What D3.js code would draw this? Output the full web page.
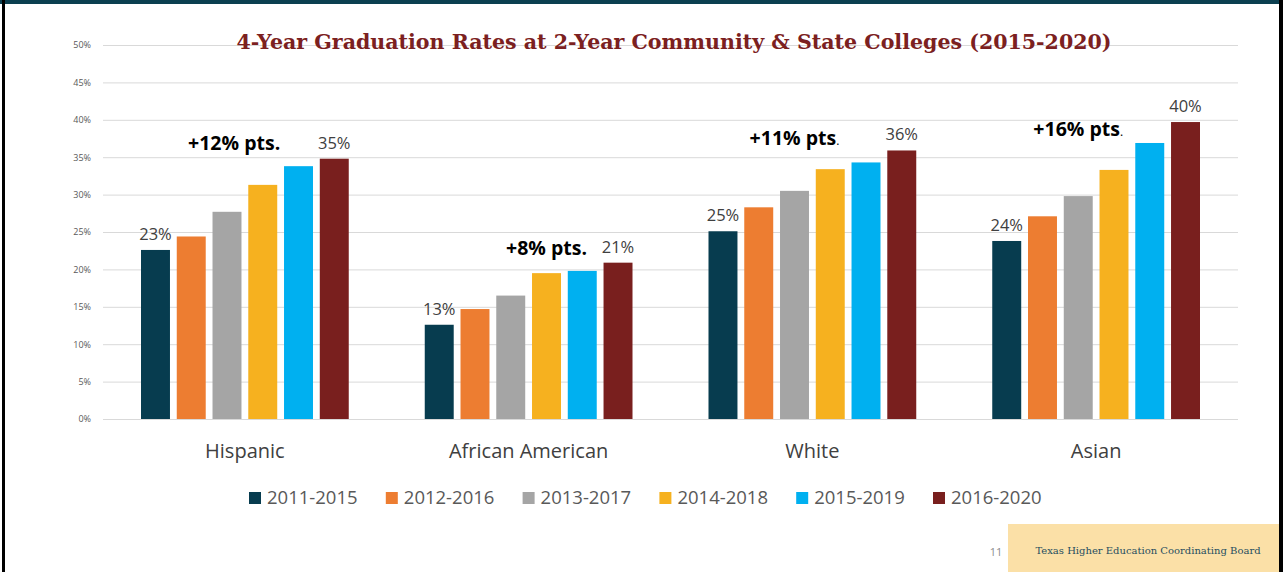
<!DOCTYPE html>
<html>
<head>
<meta charset="utf-8">
<script src="https://cdn.jsdelivr.net/npm/d3@7"></script>
<style>
  body { margin: 0; background: #fff; }
  svg { display: block; }
</style>
</head>
<body>
<svg id="chart" width="1283" height="572"></svg>
<script>
// data
var groups = ["Hispanic", "African American", "White", "Asian"];
var cohorts = ["2011-2015", "2012-2016", "2013-2017", "2014-2018", "2015-2019", "2016-2020"];
var hispanic = [22.6, 24.4, 27.7, 31.3, 33.8, 34.8];
var africanAmerican = [12.6, 14.7, 16.5, 19.5, 19.8, 20.9];
var white = [25.1, 28.3, 30.5, 33.4, 34.3, 35.9];
var asian = [23.8, 27.1, 29.8, 33.3, 36.9, 39.7];
var gains = ["+12% pts", "+8% pts", "+11% pts", "+16% pts"];
var yTicks = [0, 5, 10, 15, 20, 25, 30, 35, 40, 45, 50];
var colors = ["#073c4f", "#ed7d31", "#a5a5a5", "#f6b11f", "#00b0f0", "#791f1e"];

var series = [hispanic, africanAmerican, white, asian];
// where the gain notes sit (level on the y scale, bar they centre over)
var gainLevel = [36.0, 21.9, 36.6, 37.8];
var gainBar = [2.2, 3, 2, 2];

var svg = d3.select("#chart");
var margin = {top: 45, left: 103, right: 45, bottom: 153};
var width = 1283 - margin.left - margin.right,
    height = 572 - margin.top - margin.bottom;

// frame
svg.append("rect").attr("x", 0).attr("y", 0).attr("width", 1283).attr("height", 4).attr("fill", "#0b3f50");
svg.append("rect").attr("x", 2).attr("y", 0).attr("width", 3).attr("height", 572).attr("fill", "#000");
svg.append("rect").attr("x", 1279).attr("y", 0).attr("width", 4).attr("height", 572).attr("fill", "#000");

var g = svg.append("g").attr("transform", "translate(" + margin.left + "," + margin.top + ")");

var y = d3.scaleLinear().domain([0, 50]).range([height, 0]);
var x0 = d3.scaleBand().domain(groups).range([0, width]).paddingInner(0).paddingOuter(0);
var x1 = d3.scaleBand().domain(cohorts).range([38, x0.bandwidth() - 38]).paddingInner(0.19);
var step = x1.step();

// gridlines
g.selectAll(".grid").data(yTicks).enter()
  .append("line")
  .attr("x1", 0).attr("x2", width)
  .attr("y1", function(d) { return y(d) + 0.5; })
  .attr("y2", function(d) { return y(d) + 0.5; })
  .attr("stroke", "#d9d9d9")
  .attr("stroke-width", 1);

// y axis labels
var yAxis = g.append("g")
  .call(d3.axisLeft(y).tickValues(yTicks).tickFormat(function(d) { return d + "%"; }).tickSize(0).tickPadding(12));
yAxis.select(".domain").remove();
yAxis.selectAll("text")
  .attr("fill", "#595959")
  .style("font-family", "'Open Sans', sans-serif")
  .style("font-size", "9px");

// bars
var grp = g.selectAll(".grp").data(groups).enter()
  .append("g")
  .attr("transform", function(d) { return "translate(" + x0(d) + ",0)"; });

grp.selectAll("rect")
  .data(function(d, i) { return series[i].map(function(v, j) { return {key: cohorts[j], value: v, idx: j}; }); })
  .enter()
  .append("rect")
  .attr("x", function(d) { return x1(d.key); })
  .attr("width", x1.bandwidth())
  .attr("y", function(d) { return y(d.value); })
  .attr("height", function(d) { return height - y(d.value); })
  .attr("fill", function(d) { return colors[d.idx]; });

// value labels on first and last bar
grp.selectAll(".lbl")
  .data(function(d, i) {
    var s = series[i];
    return [{key: cohorts[0], value: s[0]}, {key: cohorts[5], value: s[5]}];
  })
  .enter()
  .append("text")
  .attr("x", function(d) { return x1(d.key) + x1.bandwidth() / 2; })
  .attr("y", function(d) { return y(d.value) - 10; })
  .attr("text-anchor", "middle")
  .attr("fill", "#404040")
  .style("font-family", "'Open Sans', sans-serif")
  .style("font-size", "16.5px")
  .text(function(d) { return Math.round(d.value) + "%"; });

// gain annotations
var ann = grp.append("text")
  .attr("x", function(d, i) { return x1(cohorts[0]) + gainBar[i] * step + x1.bandwidth() / 2; })
  .attr("y", function(d, i) { return y(gainLevel[i]); })
  .attr("text-anchor", "middle")
  .attr("fill", "#000")
  .style("font-family", "'Open Sans', sans-serif")
  .style("font-size", "19.5px")
  .style("font-weight", "bold");
ann.append("tspan").text(function(d, i) { return gains[i]; });
ann.append("tspan")
  .style("font-weight", function(d, i) { return (i === 1 || i === 0) ? "bold" : "normal"; })
  .style("font-size", function(d, i) { return (i === 1 || i === 0) ? "19.5px" : "12px"; })
  .text(".");

// category labels
g.selectAll(".cat").data(groups).enter()
  .append("text")
  .attr("x", function(d) { return x0(d) + x0.bandwidth() / 2; })
  .attr("y", height + 39)
  .attr("text-anchor", "middle")
  .attr("fill", "#404040")
  .style("font-family", "'Open Sans', sans-serif")
  .style("font-size", "20px")
  .text(function(d) { return d; });

// legend
var legend = svg.append("g").attr("transform", "translate(249,498)");
var item = legend.selectAll(".item").data(cohorts).enter()
  .append("g")
  .attr("transform", function(d, i) { return "translate(" + (i * 136.8) + ",0)"; });
item.append("rect")
  .attr("x", 0).attr("y", -6)
  .attr("width", 12).attr("height", 12)
  .attr("fill", function(d, i) { return colors[i]; });
item.append("text")
  .attr("x", 18).attr("y", 0)
  .attr("dy", "0.35em")
  .attr("fill", "#595959")
  .style("font-family", "'Open Sans', sans-serif")
  .style("font-size", "18.5px")
  .text(function(d) { return d; });

// title
svg.append("text")
  .attr("x", 674)
  .attr("y", 49)
  .attr("text-anchor", "middle")
  .attr("fill", "#7b2020")
  .attr("textLength", 875)
  .attr("lengthAdjust", "spacingAndGlyphs")
  .style("font-family", "'DejaVu Serif', serif")
  .style("font-size", "21px")
  .style("font-weight", "bold")
  .text("4-Year Graduation Rates at 2-Year Community & State Colleges (2015-2020)");

// footer
svg.append("rect").attr("x", 1008).attr("y", 524).attr("width", 271).attr("height", 48).attr("fill", "#fbe0a7");
svg.append("text")
  .attr("x", 1148).attr("y", 554)
  .attr("text-anchor", "middle")
  .attr("fill", "#1f4e5f")
  .style("font-family", "'DejaVu Serif', serif")
  .style("font-size", "10px")
  .text("Texas Higher Education Coordinating Board");
svg.append("text")
  .attr("x", 996).attr("y", 556)
  .attr("text-anchor", "middle")
  .attr("fill", "#8c8c8c")
  .style("font-family", "'Open Sans', sans-serif")
  .style("font-size", "11px")
  .text("11");
</script>
</body>
</html>
